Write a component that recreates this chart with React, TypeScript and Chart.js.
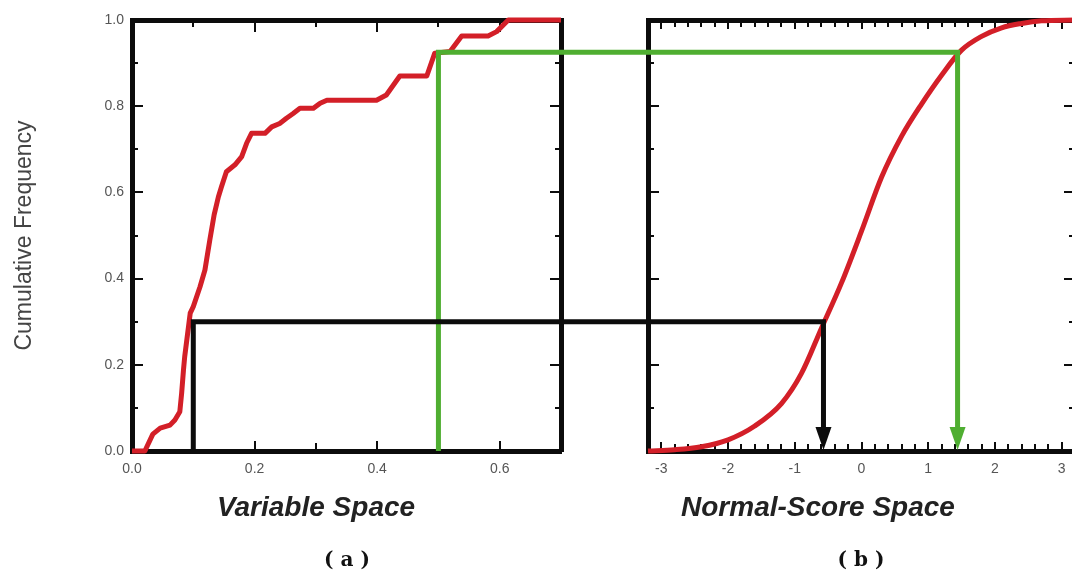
import React, { useEffect, useRef } from 'react';
import { Chart, registerables } from 'chart.js';

Chart.register(...registerables);

// ---------------- data ----------------
// (a) variable space: empirical cumulative frequency
const variableValues = [
  0, 0.021, 0.034, 0.046, 0.062, 0.07, 0.078, 0.081, 0.084, 0.086,
  0.095, 0.1, 0.111, 0.119, 0.127, 0.134, 0.141, 0.146, 0.154, 0.168,
  0.179, 0.187, 0.195, 0.217, 0.228, 0.241, 0.252, 0.263, 0.274, 0.296,
  0.307, 0.318, 0.399, 0.415, 0.437, 0.481, 0.494, 0.519, 0.538, 0.581,
  0.595, 0.614, 0.7,
];
const variableCdf = [
  0, 0, 0.039, 0.053, 0.06, 0.072, 0.091, 0.134, 0.188, 0.219,
  0.32, 0.335, 0.381, 0.42, 0.49, 0.548, 0.59, 0.613, 0.648, 0.664,
  0.683, 0.714, 0.737, 0.737, 0.752, 0.76, 0.772, 0.783, 0.795, 0.795,
  0.807, 0.814, 0.814, 0.826, 0.87, 0.87, 0.923, 0.927, 0.963, 0.963,
  0.973, 1.0, 1.0,
];
// (b) normal-score space
const scoreValues = [
  -3.2, -2.8, -2.4, -2.0, -1.6, -1.2, -0.9, -0.6, -0.3, 0.0,
  0.3, 0.6, 0.9, 1.2, 1.5, 1.8, 2.1, 2.4, 2.7, 3.2,
];
const scoreCdf = [
  0, 0.003, 0.01, 0.026, 0.058, 0.11, 0.18, 0.285, 0.39, 0.51,
  0.635, 0.73, 0.805, 0.872, 0.93, 0.962, 0.982, 0.992, 0.998, 1.0,
];
// transformation look-ups (variable -> cdf -> normal score)
const lookupVariable = [0.1, 0.5];
const lookupCdf = [0.3, 0.925];
const lookupScore = [-0.57, 1.44];

// tick labels
const variableTickLabels = ['0.0', '0.2', '0.4', '0.6'];
const cdfTickLabels = ['0.0', '0.2', '0.4', '0.6', '0.8', '1.0'];
const scoreTickLabels = ['-3', '-2', '-1', '0', '1', '2', '3'];

// ---------------- styles ----------------
const RED = '#d31f28';
const BLACK = '#0c0c0c';
const TICK_COLOR = '#555555';
const connectorColors = ['#0c0c0c', '#4fae31'];
const FONT = "'Liberation Sans', Arial, Helvetica, sans-serif";

Chart.defaults.font.family = FONT;

type TickSpec = { id: string; major: number; majorLen: number; minorLen: number };

function makeInwardTicks(specs: TickSpec[]) {
  return {
    id: 'inwardTicks',
    beforeDatasetsDraw(chart: any) {
      const { ctx, chartArea } = chart;
      ctx.save();
      ctx.strokeStyle = BLACK;
      ctx.lineWidth = 2;
      for (const spec of specs) {
        const scale = chart.scales[spec.id];
        if (!scale) continue;
        for (const t of scale.ticks) {
          const v = t.value;
          if (Math.abs(v - scale.min) < 1e-9 || Math.abs(v - scale.max) < 1e-9) continue;
          const r = v / spec.major;
          const len = Math.abs(r - Math.round(r)) < 1e-6 ? spec.majorLen : spec.minorLen;
          const p = Math.round(scale.getPixelForValue(v));
          ctx.beginPath();
          if (scale.position === 'bottom') {
            ctx.moveTo(p, chartArea.bottom);
            ctx.lineTo(p, chartArea.bottom - len);
          } else if (scale.position === 'top') {
            ctx.moveTo(p, chartArea.top);
            ctx.lineTo(p, chartArea.top + len);
          } else if (scale.position === 'left') {
            ctx.moveTo(chartArea.left, p);
            ctx.lineTo(chartArea.left + len, p);
          } else {
            ctx.moveTo(chartArea.right, p);
            ctx.lineTo(chartArea.right - len, p);
          }
          ctx.stroke();
        }
      }
      ctx.restore();
    },
  };
}

const labelFrom = (labels: string[], digits: number) => (v: any) => {
  const n = Number(v);
  const s = digits === 0 ? String(Math.round(n)) : n.toFixed(digits);
  if (digits === 0 && Math.abs(n - Math.round(n)) > 1e-6) return '';
  return labels.includes(s) ? s : '';
};

function frameAxis(position: string, min: number, max: number, step: number, size: number, extra: any = {}) {
  const horizontal = position === 'top' || position === 'bottom';
  return {
    type: 'linear',
    position,
    min,
    max,
    afterFit: (s: any) => {
      if (horizontal) s.height = size;
      else s.width = size;
    },
    grid: { display: true, drawOnChartArea: false, drawTicks: false },
    border: { display: true, width: 5, color: BLACK },
    ticks: { display: false, stepSize: step, autoSkip: false, maxRotation: 0 },
    ...extra,
  };
}

function Caption(props: { text: string; cx: number; baseline: number; size: number; font: string; style?: any }) {
  const { text, cx, baseline, size, font, style } = props;
  return (
    <div
      style={{
        position: 'absolute',
        left: cx - 250,
        width: 500,
        top: baseline - 0.846 * size,
        height: size,
        lineHeight: `${size}px`,
        fontSize: size,
        fontFamily: font,
        textAlign: 'center',
        whiteSpace: 'pre',
        color: '#1e1e1e',
        ...style,
      }}
    >
      {text}
    </div>
  );
}

export default function App() {
  const refA = useRef<HTMLCanvasElement>(null);
  const refB = useRef<HTMLCanvasElement>(null);

  useEffect(() => {
    const tickFont = { size: 14 };
    const chartA = new Chart(refA.current as HTMLCanvasElement, {
      type: 'line',
      data: {
        datasets: [
          {
            data: variableValues.map((x, i) => ({ x, y: variableCdf[i] })),
            borderColor: RED,
            borderWidth: 5,
            pointRadius: 0,
            tension: 0,
            clip: false,
            borderJoinStyle: 'round',
          } as any,
        ],
      },
      options: {
        responsive: false,
        animation: false,
        events: [],
        layout: { padding: { left: 0, right: 511, top: 20, bottom: 0 } },
        plugins: { legend: { display: false }, tooltip: { enabled: false } },
        scales: {
          x: frameAxis('bottom', 0, 0.7, 0.1, 124, {
            ticks: {
              display: true, stepSize: 0.1, autoSkip: false, maxRotation: 0, padding: 10,
              color: TICK_COLOR, font: tickFont, callback: labelFrom(variableTickLabels, 1),
            },
          }),
          xTop: frameAxis('top', 0, 0.7, 0.1, 0),
          y: frameAxis('left', 0, 1, 0.1, 132, {
            ticks: {
              display: true, stepSize: 0.1, autoSkip: false, padding: 8,
              color: TICK_COLOR, font: tickFont, callback: labelFrom(cdfTickLabels, 1),
            },
            title: {
              display: true, text: 'Cumulative Frequency', color: '#444444',
              font: { size: 23 }, padding: { top: 11, bottom: 0 },
            },
          }),
          yRight: frameAxis('right', 0, 1, 0.1, 0),
        } as any,
      },
      plugins: [
        makeInwardTicks([
          { id: 'x', major: 0.2, majorLen: 10, minorLen: 8 },
          { id: 'xTop', major: 0.2, majorLen: 12, minorLen: 7 },
          { id: 'y', major: 0.2, majorLen: 11, minorLen: 6 },
          { id: 'yRight', major: 0.2, majorLen: 11, minorLen: 6 },
        ]),
      ],
    } as any);

    const connectors = {
      id: 'connectors',
      afterDatasetsDraw(chart: any) {
        const ax = chartA.scales.x;
        const ay = chartA.scales.y;
        const bx = chart.scales.x;
        const by = chart.scales.y;
        const ctx = chart.ctx;
        for (let i = lookupVariable.length - 1; i >= 0; i--) {
          const color = connectorColors[i];
          const x0 = ax.getPixelForValue(lookupVariable[i]);
          const y0 = ay.getPixelForValue(0);
          const yc = ay.getPixelForValue(lookupCdf[i]);
          const x1 = bx.getPixelForValue(lookupScore[i]);
          const yb = by.getPixelForValue(0);
          const ybc = by.getPixelForValue(lookupCdf[i]);
          ctx.save();
          ctx.strokeStyle = color;
          ctx.fillStyle = color;
          ctx.lineWidth = 5;
          ctx.lineJoin = 'miter';
          ctx.lineCap = 'butt';
          ctx.beginPath();
          ctx.moveTo(x0, y0);
          ctx.lineTo(x0, yc);
          ctx.lineTo(x1, ybc);
          ctx.lineTo(x1, yb - 18);
          ctx.stroke();
          ctx.beginPath();
          ctx.moveTo(x1 - 8, yb - 24);
          ctx.lineTo(x1 + 8, yb - 24);
          ctx.lineTo(x1, yb - 1);
          ctx.closePath();
          ctx.fill();
          ctx.restore();
        }
      },
    };

    const chartB = new Chart(refB.current as HTMLCanvasElement, {
      type: 'line',
      data: {
        datasets: [
          {
            data: scoreValues.map((x, i) => ({ x, y: scoreCdf[i] })),
            borderColor: RED,
            borderWidth: 5,
            pointRadius: 0,
            cubicInterpolationMode: 'monotone',
            clip: false,
          } as any,
        ],
      },
      options: {
        responsive: false,
        animation: false,
        events: [],
        layout: { padding: { left: 648, right: 25, top: 20, bottom: 0 } },
        plugins: { legend: { display: false }, tooltip: { enabled: false } },
        scales: {
          x: frameAxis('bottom', -3.2, 3.2, 0.2, 124, {
            ticks: {
              display: true, stepSize: 0.2, autoSkip: false, maxRotation: 0, padding: 10,
              color: TICK_COLOR, font: tickFont, callback: labelFrom(scoreTickLabels, 0),
            },
          }),
          xTop: frameAxis('top', -3.2, 3.2, 0.2, 0),
          y: frameAxis('left', 0, 1, 0.1, 0),
          yRight: frameAxis('right', 0, 1, 0.1, 0),
        } as any,
      },
      plugins: [
        makeInwardTicks([
          { id: 'x', major: 1, majorLen: 9, minorLen: 7 },
          { id: 'xTop', major: 1, majorLen: 9, minorLen: 7 },
          { id: 'y', major: 0.2, majorLen: 11, minorLen: 6 },
          { id: 'yRight', major: 0.2, majorLen: 11, minorLen: 6 },
        ]),
        connectors,
      ],
    } as any);

    return () => {
      chartB.destroy();
      chartA.destroy();
    };
  }, []);

  const titleFont = FONT;
  const captionFont = "'DejaVu Serif', 'Liberation Serif', serif";

  return (
    <div
      style={{
        position: 'fixed', left: 0, top: 0, width: 1072, height: 575,
        overflow: 'hidden', background: '#ffffff',
      }}
    >
      <canvas ref={refA} width={1072} height={575} style={{ position: 'absolute', left: 0, top: 0 }} />
      <canvas ref={refB} width={1100} height={575} style={{ position: 'absolute', left: 0, top: 0 }} />
      <Caption text="Variable Space" cx={316} baseline={517} size={28} font={titleFont}
        style={{ fontWeight: 'bold', fontStyle: 'italic', color: '#222222' }} />
      <Caption text="Normal-Score Space" cx={818} baseline={517} size={28} font={titleFont}
        style={{ fontWeight: 'bold', fontStyle: 'italic', color: '#222222' }} />
      <Caption text="( a )" cx={347} baseline={566} size={20} font={captionFont}
        style={{ fontWeight: 'bold', color: '#111111' }} />
      <Caption text="( b )" cx={861} baseline={566} size={20} font={captionFont}
        style={{ fontWeight: 'bold', color: '#111111' }} />
    </div>
  );
}
